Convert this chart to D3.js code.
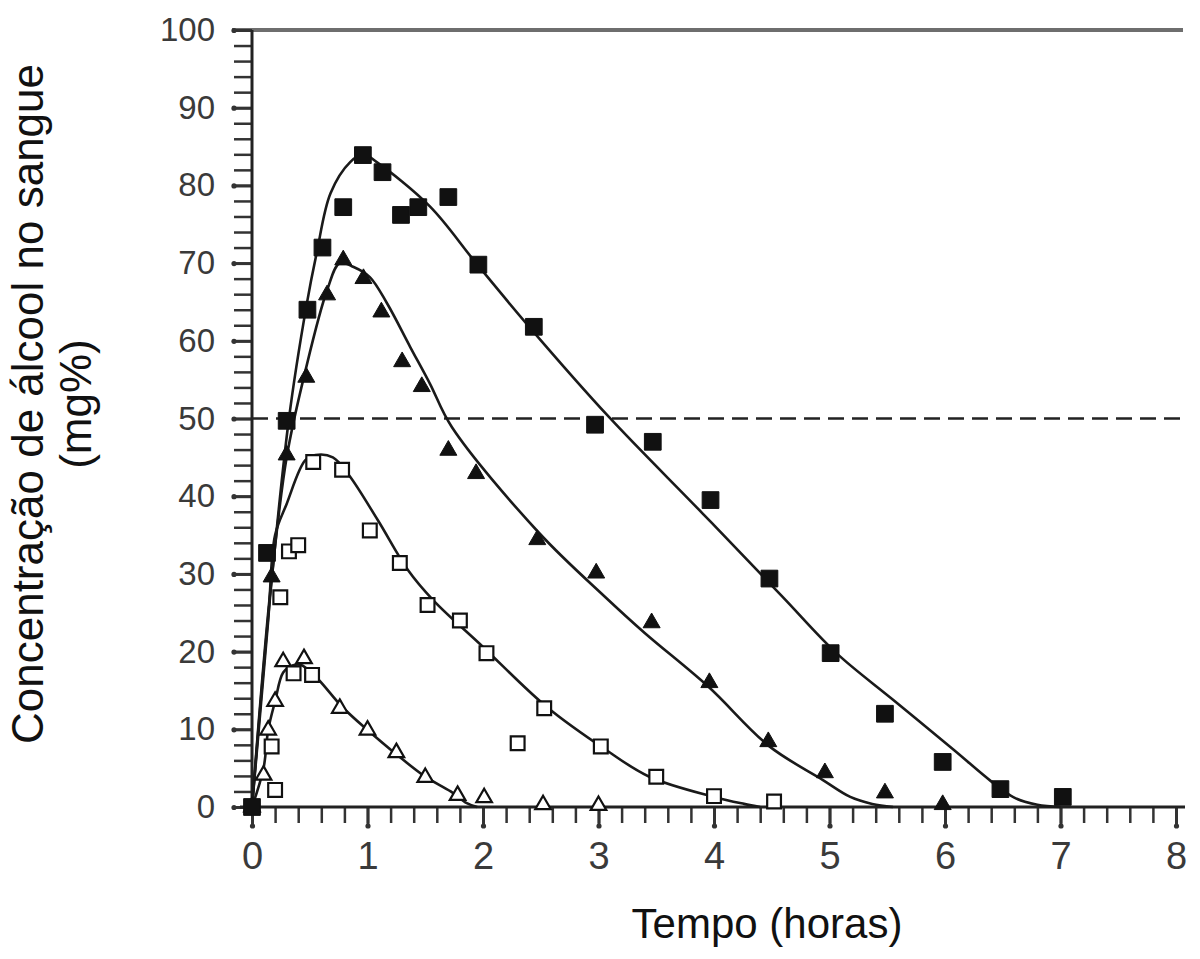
<!DOCTYPE html>
<html>
<head>
<meta charset="utf-8">
<script src="https://cdn.jsdelivr.net/npm/d3@7"></script>
<style>
  body { margin: 0; background: #fff; }
  svg { display: block; }
  text { font-family: "Liberation Sans", Arial, sans-serif; }
</style>
</head>
<body>
<div class="chart1"></div>
<script>
// measured points (hours, mg%)
var fullSqT  = [0, 0.13, 0.30, 0.48, 0.61, 0.79, 0.96, 1.13, 1.29, 1.44, 1.70, 1.96, 2.44, 2.97, 3.47, 3.97, 4.48, 5.01, 5.48, 5.98, 6.48, 7.02];
var fullSqC  = [0, 32.7, 49.7, 64.0, 72.0, 77.2, 83.9, 81.7, 76.2, 77.2, 78.5, 69.8, 61.8, 49.2, 47.0, 39.5, 29.4, 19.8, 12.0, 5.8, 2.3, 1.3];

var fullTriT = [0, 0.17, 0.30, 0.47, 0.65, 0.79, 0.965, 1.12, 1.30, 1.47, 1.70, 1.94, 2.47, 2.98, 3.46, 3.96, 4.47, 4.96, 5.48, 5.98];
var fullTriC = [0, 29.6, 45.3, 55.3, 65.9, 70.4, 68.0, 63.7, 57.3, 54.1, 45.9, 42.9, 34.4, 30.1, 23.7, 16.0, 8.4, 4.4, 1.8, 0.3];

var openSqT  = [0, 0.17, 0.20, 0.245, 0.32, 0.36, 0.40, 0.52, 0.53, 0.78, 1.02, 1.28, 1.52, 1.80, 2.03, 2.30, 2.53, 3.02, 3.50, 4.00, 4.52];
var openSqC  = [0, 7.8, 2.2, 27.0, 32.9, 17.2, 33.7, 17.0, 44.4, 43.4, 35.6, 31.4, 26.0, 24.0, 19.8, 8.2, 12.7, 7.8, 3.9, 1.4, 0.7];

var openTriT = [0, 0.10, 0.14, 0.20, 0.27, 0.45, 0.76, 1.00, 1.25, 1.50, 1.78, 2.01, 2.52, 3.00];
var openTriC = [0, 4.1, 9.9, 13.6, 18.7, 19.1, 12.7, 9.9, 7.0, 3.8, 1.5, 1.2, 0.3, 0.2];

// fitted curves
var fitSqT  = [0, 0.15, 0.32, 0.47, 0.56, 0.68, 0.85, 0.965, 1.08, 1.54, 1.94, 2.40, 3.09, 3.90, 4.59, 5.06, 5.55, 6.08, 6.40, 6.60, 6.80, 7.00];
var fitSqC  = [0, 26, 50, 64.4, 71.3, 79, 83, 84, 83, 77.3, 70, 61.8, 50.2, 37.8, 27.1, 19.8, 13.8, 7.3, 3.3, 1.2, 0.3, 0];

var fitTriT = [0, 0.16, 0.30, 0.46, 0.65, 0.76, 0.88, 1.02, 1.17, 1.37, 1.54, 1.73, 2.49, 3.06, 3.40, 3.95, 4.48, 4.94, 5.18, 5.37, 5.55];
var fitTriC = [0, 28, 45, 56, 66.5, 70, 69.5, 68.2, 64.8, 59.2, 54.5, 48.9, 35.2, 27, 22.4, 15.5, 7.8, 3.5, 1.3, 0.4, 0];

var fitOSqT = [0, 0.14, 0.20, 0.30, 0.46, 0.55, 0.70, 0.84, 1.09, 1.35, 1.57, 2.00, 2.55, 3.07, 3.44, 4.00, 4.26, 4.40];
var fitOSqC = [0, 24, 35, 39, 44.6, 45.3, 45, 42.7, 36.9, 30.5, 26.6, 20.6, 12.9, 7.3, 3.9, 1.3, 0.4, 0];

var fitOTriT = [0, 0.10, 0.14, 0.20, 0.27, 0.35, 0.42, 0.55, 0.78, 1.00, 1.24, 1.50, 1.72, 1.86, 1.95];
var fitOTriC = [0, 5, 9.9, 13.6, 17.3, 18.2, 18.3, 16.8, 12.9, 9.9, 6.9, 3.9, 2.0, 0.5, 0];

var legalLimit = 50;
var xTicks = [0, 1, 2, 3, 4, 5, 6, 7, 8];
var yTicks = [0, 10, 20, 30, 40, 50, 60, 70, 80, 90, 100];

var W = 1200, H = 959;
var svg = d3.select(".chart1").append("svg").attr("width", W).attr("height", H);

var x = d3.scaleLinear().domain([0, 8]).range([252, 1176]);
var y = d3.scaleLinear().domain([0, 100]).range([807, 30]);

function zip(t, c) { return t.map(function (v, i) { return [v, c[i]]; }); }

// top frame line
svg.append("line")
  .attr("x1", x(0) - 20).attr("x2", 1183)
  .attr("y1", y(100)).attr("y2", y(100))
  .attr("stroke", "#6e6e6e").attr("stroke-width", 4);

// y axis: minor + major ticks
var yMinor = svg.append("g").attr("transform", "translate(" + x(0) + ",0)")
  .call(d3.axisLeft(y).tickValues(d3.range(0, 101, 2)).tickSize(18).tickFormat(""));
yMinor.select(".domain").remove();
yMinor.selectAll("line").attr("stroke", "#333").attr("stroke-width", 2.5);

var yMajor = svg.append("g").attr("transform", "translate(" + x(0) + ",0)")
  .call(d3.axisLeft(y).tickValues(yTicks).tickSize(20).tickPadding(17));
yMajor.select(".domain").remove();
yMajor.selectAll("line").attr("stroke", "#333").attr("stroke-width", 3);
yMajor.selectAll(".tick").append("circle").attr("cx", -18).attr("r", 2.6).attr("fill", "#333");
yMajor.selectAll("text").attr("font-size", 33).attr("fill", "#3a3a3a")
  .style("font-family", "'Liberation Sans', Arial, sans-serif");

// x axis
var xMinor = svg.append("g").attr("transform", "translate(0," + y(0) + ")")
  .call(d3.axisBottom(x).tickValues(d3.range(0, 41).map(function (i) { return i * 0.2; })).tickSize(16).tickFormat(""));
xMinor.select(".domain").remove();
xMinor.selectAll("line").attr("stroke", "#333").attr("stroke-width", 2.5);

var xMajor = svg.append("g").attr("transform", "translate(0," + y(0) + ")")
  .call(d3.axisBottom(x).tickValues(xTicks).tickSize(21).tickPadding(14).tickFormat(d3.format("d")));
xMajor.select(".domain").remove();
xMajor.selectAll("line").attr("stroke", "#333").attr("stroke-width", 3);
xMajor.selectAll(".tick").append("circle").attr("cy", 19).attr("r", 2.6).attr("fill", "#333");
xMajor.selectAll("text").attr("font-size", 38).attr("fill", "#3a3a3a")
  .style("font-family", "'Liberation Sans', Arial, sans-serif");

// axis lines
svg.append("line").attr("x1", x(0)).attr("x2", x(0)).attr("y1", y(0) + 4).attr("y2", y(100))
  .attr("stroke", "#222").attr("stroke-width", 3);
svg.append("line").attr("x1", x(0) - 12).attr("x2", 1185).attr("y1", y(0)).attr("y2", y(0))
  .attr("stroke", "#222").attr("stroke-width", 3);

// 50 mg% dashed line
svg.append("line")
  .attr("x1", x(0)).attr("x2", 1185)
  .attr("y1", y(legalLimit)).attr("y2", y(legalLimit))
  .attr("stroke", "#222").attr("stroke-width", 2.5).attr("stroke-dasharray", "16,8");

// fitted curves
var line = d3.line().x(function (d) { return x(d[0]); }).y(function (d) { return y(Math.max(0, d[1])); })
  .curve(d3.curveCatmullRom.alpha(0.5));
[[fitSqT, fitSqC], [fitTriT, fitTriC], [fitOSqT, fitOSqC], [fitOTriT, fitOTriC]].forEach(function (f) {
  svg.append("path").datum(zip(f[0], f[1])).attr("d", line)
    .attr("fill", "none").attr("stroke", "#1a1a1a").attr("stroke-width", 2.6);
});

// markers
function drawPts(t, c, type, size, filled) {
  svg.append("g").selectAll("path").data(zip(t, c)).enter().append("path")
    .attr("transform", function (d) { return "translate(" + x(d[0]) + "," + y(d[1]) + ")"; })
    .attr("d", d3.symbol().type(type).size(size))
    .attr("fill", filled ? "#111" : "#fff")
    .attr("stroke", "#111")
    .attr("stroke-width", filled ? 1 : 2.2);
}
drawPts(openTriT, openTriC, d3.symbolTriangle, 105, false);
drawPts(openSqT, openSqC, d3.symbolSquare, 190, false);
drawPts(fullTriT, fullTriC, d3.symbolTriangle, 125, true);
drawPts(fullSqT, fullSqC, d3.symbolSquare, 280, true);

// titles
svg.append("text").attr("x", 767).attr("y", 938).attr("text-anchor", "middle")
  .attr("font-size", 42).attr("fill", "#111").text("Tempo (horas)");

var yt = svg.append("text").attr("transform", "translate(43,404) rotate(-90)")
  .attr("text-anchor", "middle").attr("font-size", 44).attr("fill", "#111");
yt.append("tspan").attr("x", 0).attr("y", 0).text("Concentração de álcool no sangue");
yt.append("tspan").attr("x", 0).attr("y", 48).text("(mg%)");
</script>
</body>
</html>
